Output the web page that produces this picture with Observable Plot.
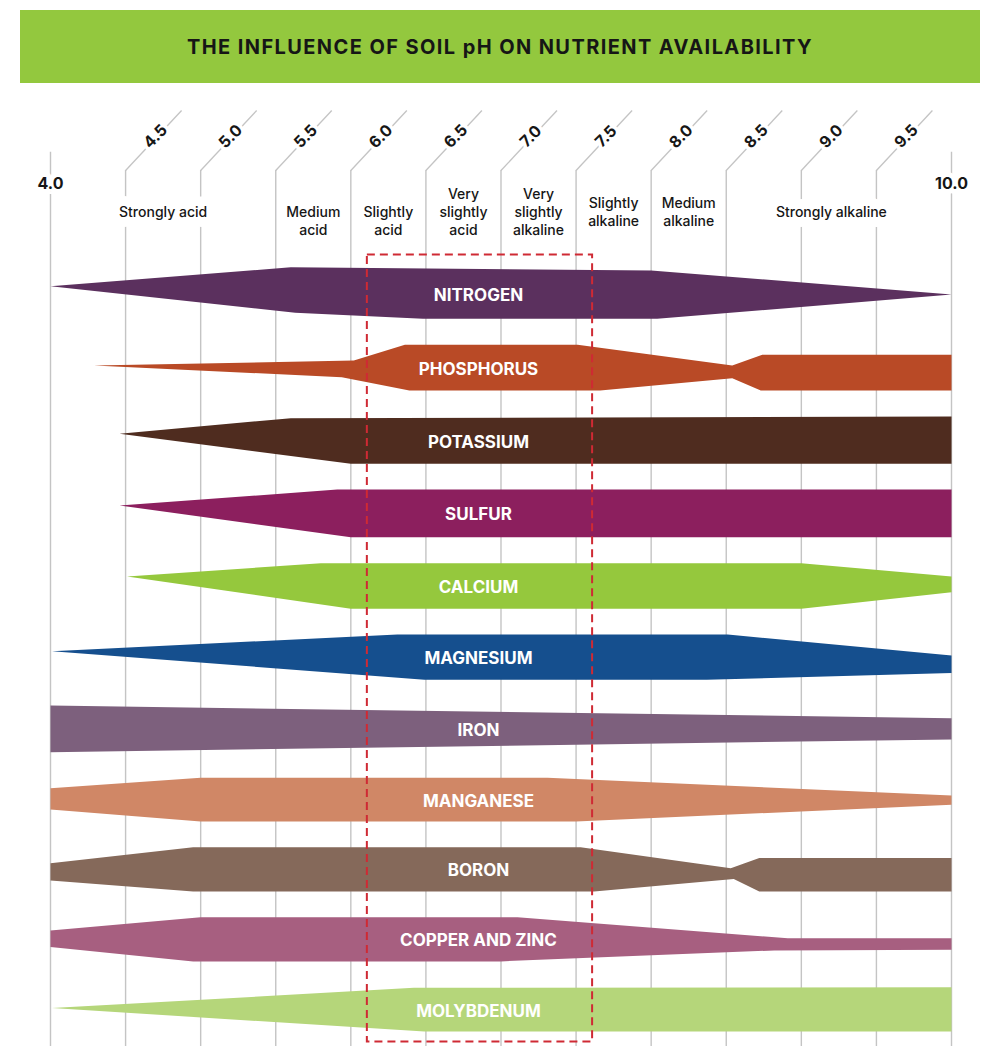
<!DOCTYPE html>
<html><head><meta charset="utf-8">
<script src="https://cdn.jsdelivr.net/npm/d3@7"></script>
<script src="https://cdn.jsdelivr.net/npm/@observablehq/plot@0.6"></script>
<style>
html,body{margin:0;padding:0;background:#fff;}
#title{position:absolute;left:20px;top:10px;width:960px;height:73px;background:#93c83e;display:flex;align-items:center;justify-content:center;font-family:Inter, sans-serif;font-weight:700;font-size:20px;letter-spacing:1.4px;color:#161616;}
#chart{position:absolute;left:0;top:90px;}
</style></head><body>
<div id="title">THE INFLUENCE OF SOIL pH ON NUTRIENT AVAILABILITY</div>
<div id="chart"></div>
<script>
// ---- data ----
const nutrients = ["NITROGEN","PHOSPHORUS","POTASSIUM","SULFUR","CALCIUM","MAGNESIUM","IRON","MANGANESE","BORON","COPPER AND ZINC","MOLYBDENUM"];
const colors = ["#5b305e","#b94a26","#4f2c1f","#8c1f5e","#95c83d","#154f8e","#7d607d","#d08766","#85695a","#a75f80","#b5d67a"];
// upper edge of each band: [pH, extent above the row line]
const upperEdge = [
  [[4.0,0.33],[5.6,1.12],[8.0,0.99],[10.0,-0.02]],
  [[4.29,0],[6.02,0.21],[6.36,0.87],[7.51,0.87],[8.54,0],[8.74,0.45],[10,0.45]],
  [[4.46,0.14],[5.6,0.79],[10,0.86]],
  [[4.46,0.13],[5.91,0.80],[10,0.80]],
  [[4.51,0.15],[5.8,0.71],[9.0,0.71],[10,0.15]],
  [[4.01,0.02],[6.31,0.72],[8.51,0.72],[10,-0.16]],
  [[4.0,0.74],[10,0.21]],
  [[4.0,0.27],[5.0,0.71],[7.31,0.71],[10,-0.03]],
  [[4.0,0.13],[4.95,0.80],[7.53,0.80],[8.53,-0.08],[8.72,0.35],[10,0.35]],
  [[4.0,0.31],[5.0,0.86],[7.11,0.86],[8.91,-0.02],[10,-0.02]],
  [[4.01,0.05],[6.42,0.90],[10,0.93]]
];
// lower edge of each band: [pH, extent below the row line]
const lowerEdge = [
  [[4.0,-0.33],[5.63,0.79],[6.48,1.04],[8.04,1.04],[10.0,0.02]],
  [[4.29,0],[5.94,0.49],[6.39,1.05],[7.66,1.05],[8.54,0.53],[8.73,1.05],[10,1.05]],
  [[4.46,-0.14],[6.0,1.12],[10,1.12]],
  [[4.46,-0.13],[6.0,1.20],[10,1.20]],
  [[4.51,-0.15],[6.0,1.20],[9.0,1.20],[10,0.51]],
  [[4.01,-0.02],[6.49,1.18],[8.37,1.18],[10,0.90]],
  [[4.0,1.22],[10,0.68]],
  [[4.0,0.62],[5.0,1.12],[7.5,1.12],[10,0.42]],
  [[4.0,0.60],[4.95,1.06],[7.62,1.06],[8.55,0.53],[8.72,1.06],[10,1.06]],
  [[4.0,0.39],[4.95,0.99],[7.0,0.99],[8.82,0.53],[10,0.50]],
  [[4.01,-0.05],[6.49,0.93],[10,0.93]]
];
const phTicks = [4.0,4.5,5.0,5.5,6.0,6.5,7.0,7.5,8.0,8.5,9.0,9.5,10.0];
const zoneNames = ["Strongly acid","Medium\nacid","Slightly\nacid","Very\nslightly\nacid","Very\nslightly\nalkaline","Slightly\nalkaline","Medium\nalkaline","Strongly alkaline"];
const zoneCenters = [4.75,5.75,6.25,6.75,7.25,7.75,8.25,9.2];
const optimalRange = [6.11, 7.61];
const labelPH = 6.85;

// ---- build tables ----
const ROW = 3;
const polys = nutrients.map((n, i) => {
  const top = upperEdge[i].map(([ph, v]) => ({ph, y: i*ROW - v}));
  const bot = lowerEdge[i].map(([ph, v]) => ({ph, y: i*ROW + v})).reverse();
  return top.concat(bot);
});
function interp(edge, ph) {
  for (let k = 0; k < edge.length - 1; k++) {
    const [a, va] = edge[k], [b, vb] = edge[k+1];
    if (ph >= a && ph <= b) return va + (vb - va) * (ph - a) / (b - a);
  }
  return 0;
}
const labels = nutrients.map((n, i) => ({
  name: n, ph: labelPH,
  y: i*ROW + (interp(lowerEdge[i], labelPH) - interp(upperEdge[i], labelPH)) / 2
}));
const zones = zoneNames.map((t, i) => ({t, ph: zoneCenters[i]}));
const zonesLow = zones.filter(d => d.t === "Medium\nacid" || d.t === "Slightly\nacid");
const zonesMid = zones.filter(d => !zonesLow.includes(d));

// layout constants (scale units)
const GRID_TOP = -5.18, END_TOP = -5.94, GRID_BOTTOM = 32, TICK_Y = -4.62, ZONE_Y = -3.46, ZONE_Y2 = -3.10;
const BOX_TOP = -1.64, BOX_BOTTOM = 31.37;
const pxX = 901/6, pxY = 715.3/30;

const inner = phTicks.slice(1, -1);
const ends = [phTicks[0], phTicks[phTicks.length-1]];
const fmt = d3.format(".1f");
const gridColor = "#c4c4c4";
const ink = "#161616";
const zoneText = {text: "t", fontFamily: "Inter", fontWeight: 500, fontSize: 14, lineHeight: 1.28};

const marks = [
  Plot.ruleX(inner, {x: d => d, y1: GRID_TOP, y2: GRID_BOTTOM, stroke: gridColor, strokeWidth: 1.4}),
  Plot.ruleX(ends, {x: d => d, y1: END_TOP, y2: GRID_BOTTOM, stroke: gridColor, strokeWidth: 1.4}),
  Plot.link(inner, {x1: d => d, y1: GRID_TOP, x2: d => d + 56/pxX, y2: GRID_TOP - 60/pxY, stroke: gridColor, strokeWidth: 1.3}),
  Plot.text(inner, {x: d => d, y: GRID_TOP, dx: 30, dy: -34, rotate: -45, text: d => fmt(d), fontFamily: "Inter", fontWeight: 700, fontSize: 16, fill: ink, stroke: "white", strokeWidth: 7, paintOrder: "stroke"}),
  Plot.text(ends, {x: d => d, y: TICK_Y, text: d => fmt(d), fontFamily: "Inter", fontWeight: 700, fontSize: 16, fill: ink, stroke: "white", strokeWidth: 10, paintOrder: "stroke"}),
  // white backing for zone labels (cuts the grid lines)
  Plot.text(zonesMid, {x: "ph", y: ZONE_Y, ...zoneText, fill: "white", stroke: "white", strokeWidth: 20, strokeLinejoin: "round"}),
  Plot.text(zonesLow, {x: "ph", y: ZONE_Y2, ...zoneText, fill: "white", stroke: "white", strokeWidth: 20, strokeLinejoin: "round"}),
  Plot.text(zonesMid, {x: "ph", y: ZONE_Y, ...zoneText, fill: ink}),
  Plot.text(zonesLow, {x: "ph", y: ZONE_Y2, ...zoneText, fill: ink}),
  ...polys.map((p, i) => Plot.line(p, {x: "ph", y: "y", fill: colors[i], stroke: "none", curve: "linear"})),
  Plot.rect([optimalRange], {x1: d => d[0], x2: d => d[1], y1: BOX_TOP, y2: BOX_BOTTOM, fill: "none", stroke: "#cf2a34", strokeWidth: 2, strokeDasharray: "8,5"}),
  Plot.text(labels, {x: "ph", y: "y", dy: 1.5, text: "name", fontFamily: "Inter", fontWeight: 700, fontSize: 17, fill: "white"})
];

const chart = Plot.plot({
  width: 985, height: 956,
  margin: 0,
  x: {domain: [4, 10], range: [50, 951], axis: null},
  y: {domain: [0, 30], range: [203.5, 918.8], axis: null},
  style: {fontFamily: "Inter", background: "transparent", overflow: "visible"},
  marks
});
document.getElementById("chart").appendChild(chart);
</script>
</body></html>
